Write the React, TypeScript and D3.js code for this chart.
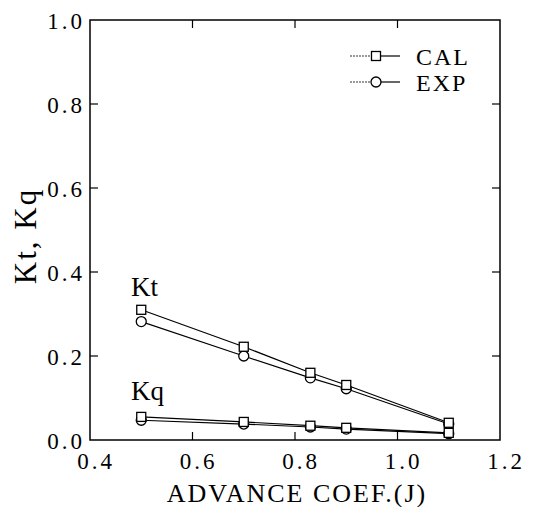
import React from "react";
import * as d3 from "d3";

const J = [0.5, 0.7, 0.83, 0.9, 1.1];
const ktCal = [0.31, 0.222, 0.16, 0.131, 0.041];
const ktExp = [0.282, 0.2, 0.148, 0.122, 0.038];
const kqCal = [0.055, 0.043, 0.034, 0.029, 0.017];
const kqExp = [0.047, 0.038, 0.031, 0.026, 0.015];
const xTicks = [0.4, 0.6, 0.8, 1.0, 1.2];
const yTicks = [0.0, 0.2, 0.4, 0.6, 0.8, 1.0];

const W = 539, H = 507;
const M = { left: 90, right: 39, top: 20, bottom: 67 };
const FONT = "'Liberation Serif', 'DejaVu Serif', serif";

export default function App() {
  const x = d3.scaleLinear().domain([0.4, 1.2]).range([M.left, W - M.right]);
  const y = d3.scaleLinear().domain([0, 1]).range([H - M.bottom, M.top]);
  const line = d3.line<[number, number]>().x(d => x(d[0])).y(d => y(d[1]));
  const series = [
    { v: ktExp, m: "ci" },
    { v: kqExp, m: "ci" },
    { v: ktCal, m: "sq" },
    { v: kqCal, m: "sq" },
  ];
  const marker = (m: string, cx: number, cy: number, k: string) =>
    m === "sq" ? (
      <rect key={k} x={cx - 4.5} y={cy - 4.5} width={9} height={9} fill="white" stroke="black" strokeWidth={1.3} />
    ) : (
      <circle key={k} cx={cx} cy={cy} r={5} fill="white" stroke="black" strokeWidth={1.3} />
    );
  const x0 = M.left, x1 = W - M.right, y0 = M.top, y1 = H - M.bottom;
  return (
    <svg width={W} height={H} style={{ position: "absolute", left: 0, top: 0, background: "white" }}>
      <rect x={0} y={0} width={W} height={H} fill="white" />
      <rect x={x0} y={y0} width={x1 - x0} height={y1 - y0} fill="none" stroke="black" strokeWidth={1.5} />
      {xTicks.slice(1, -1).map(t => (
        <g key={"xt" + t}>
          <line x1={x(t)} x2={x(t)} y1={y1} y2={y1 - 8} stroke="black" strokeWidth={1.2} />
          <line x1={x(t)} x2={x(t)} y1={y0} y2={y0 + 8} stroke="black" strokeWidth={1.2} />
        </g>
      ))}
      {yTicks.slice(1, -1).map(t => (
        <g key={"yt" + t}>
          <line x1={x0} x2={x0 + 8} y1={y(t)} y2={y(t)} stroke="black" strokeWidth={1.2} />
          <line x1={x1} x2={x1 - 8} y1={y(t)} y2={y(t)} stroke="black" strokeWidth={1.2} />
        </g>
      ))}
      {xTicks.map(t => (
        <text key={"xl" + t} x={x(t) + 6} y={y1 + 29} textAnchor="middle" fontFamily={FONT} fontSize={23} letterSpacing={3}>
          {t.toFixed(1)}
        </text>
      ))}
      {yTicks.map(t => (
        <text key={"yl" + t} x={x0 - 5} y={y(t) + 9} textAnchor="end" fontFamily={FONT} fontSize={23} letterSpacing={3}>
          {t.toFixed(1)}
        </text>
      ))}
      <text x={(x0 + x1) / 2 + 2} y={502} textAnchor="middle" fontFamily={FONT} fontSize={26} letterSpacing={2}>
        ADVANCE COEF.(J)
      </text>
      <text transform={`translate(36,236) rotate(-90)`} textAnchor="middle" fontFamily={FONT} fontSize={31} letterSpacing={2}>
        Kt,  Kq
      </text>
      {series.map((s, i) => (
        <path key={"l" + i} d={line(J.map((j, k) => [j, s.v[k]]) as [number, number][]) || ""} fill="none" stroke="black" strokeWidth={1.2} />
      ))}
      {series.map((s, i) => J.map((j, k) => marker(s.m, x(j), y(s.v[k]), `m${i}-${k}`)))}
      <text x={131} y={296} fontFamily={FONT} fontSize={27}>Kt</text>
      <text x={131} y={400} fontFamily={FONT} fontSize={27}>Kq</text>
      {[{ label: "CAL", m: "sq", yy: 56 }, { label: "EXP", m: "ci", yy: 82 }].map(l => (
        <g key={l.label}>
          <line x1={350} x2={376} y1={l.yy} y2={l.yy} stroke="black" strokeWidth={0.8} strokeDasharray="2,1" />
          <line x1={376} x2={400} y1={l.yy} y2={l.yy} stroke="black" strokeWidth={1.2} />
          {marker(l.m, 376, l.yy, "lg" + l.label)}
          <text x={416} y={l.yy + 9} fontFamily={FONT} fontSize={24} letterSpacing={2}>{l.label}</text>
        </g>
      ))}
    </svg>
  );
}
